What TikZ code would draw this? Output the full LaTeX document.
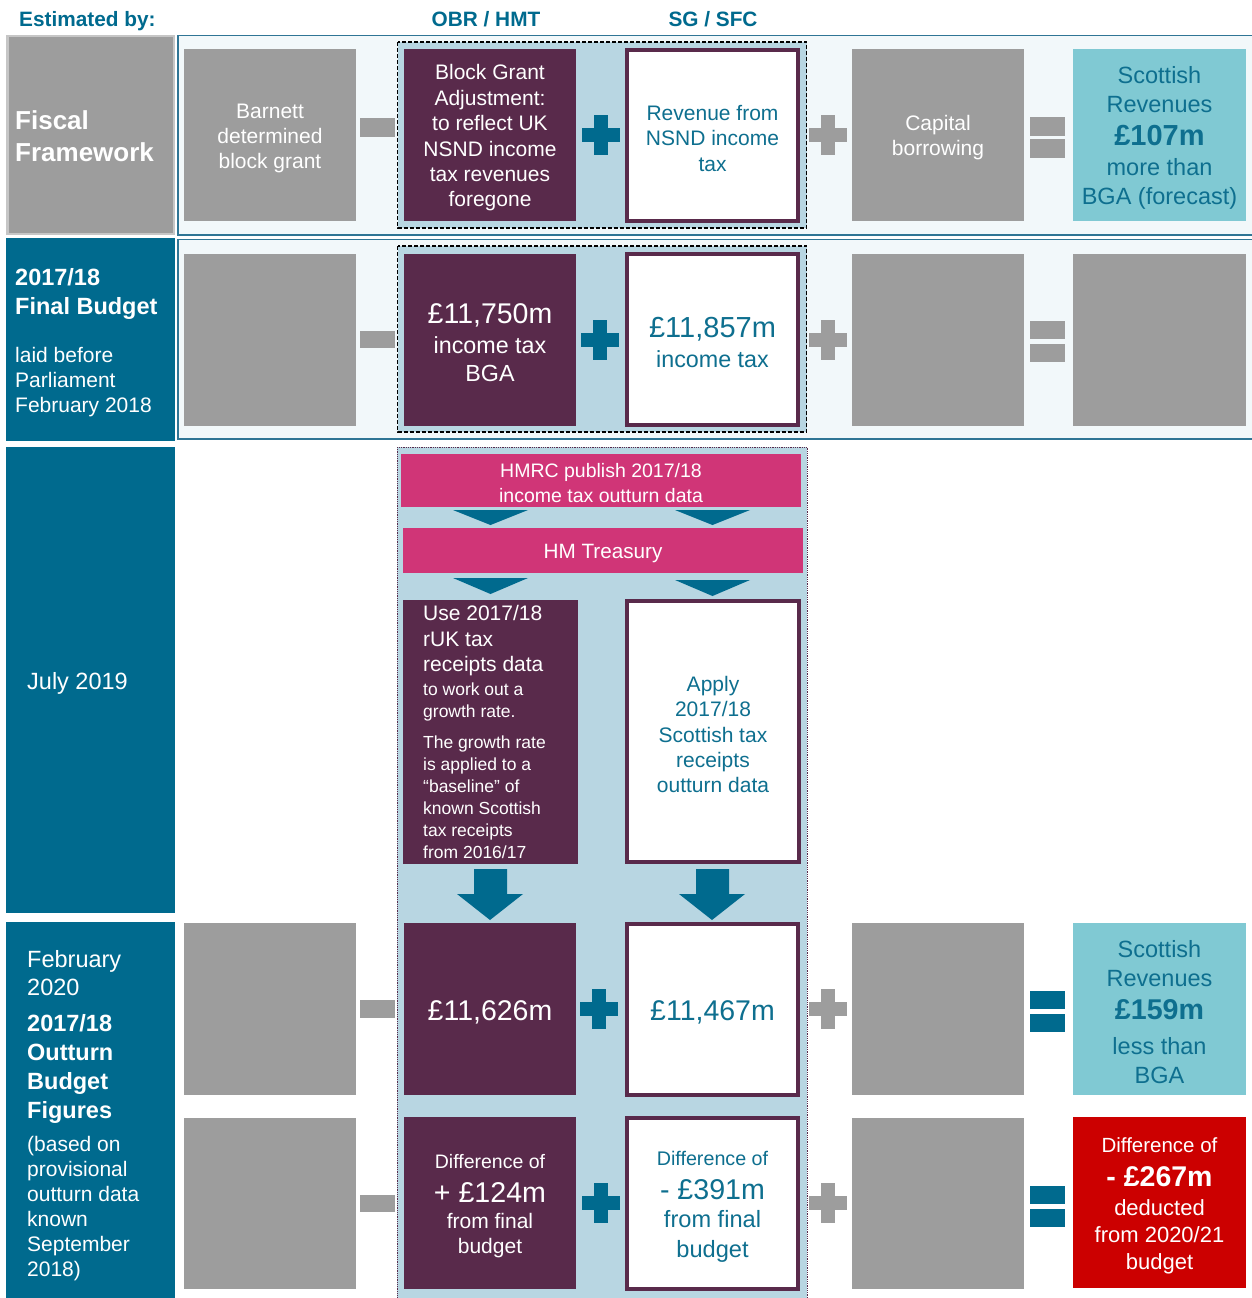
\documentclass[tikz,border=0pt]{standalone}
\usepackage{fontspec}
\setmainfont{Liberation Sans}
\usetikzlibrary{fit}
\definecolor{cteal}{HTML}{006A8E}
\definecolor{cgray}{HTML}{9D9D9D}
\definecolor{cgrayb}{HTML}{C6C6C6}
\definecolor{cpurple}{HTML}{592A4B}
\definecolor{clblue}{HTML}{B8D6E2}
\definecolor{cband}{HTML}{F2F8FA}
\definecolor{cbandb}{HTML}{2F7595}
\definecolor{cpink}{HTML}{D03577}
\definecolor{clteal}{HTML}{80C9D3}
\definecolor{cred}{HTML}{CC0000}
\definecolor{ctxt}{HTML}{0E6F8F}
\newcommand\fs[2]{\fontsize{#1}{#2}\selectfont}
% name, x1, y1, x2, y2, box style, text style, text
\newcommand\rbox[8]{\node[rect,fit={(#2,#3) (#4,#5)},#6] (#1) {};
  \node[rect,#7] (#1t) at ([yshift=-3pt]#1.center) {#8};}
\newcommand\plusat[3]{\fill[#3] (#1-19,#2-7) rectangle (#1+19,#2+7); \fill[#3] (#1-7,#2-20) rectangle (#1+7,#2+20);}
\begin{document}
\begin{tikzpicture}[x=1pt,y=-1pt,
  rect/.style={inner sep=0pt, outer sep=0pt, align=center},
  wbox/.style={fill=white, draw=cpurple, line width=4pt},
  pbox/.style={fill=cpurple},
  gbox/.style={fill=cgray},
  lt/.style={anchor=west, align=left, inner sep=0pt, text=white},
  hdr/.style={inner sep=0pt, text=cteal, font=\bfseries\fs{20.8}{24}},
  dashbox/.style={draw=black, fill=clblue, line width=1.3pt, dash pattern=on 4pt off 2pt}]
\useasboundingbox (0,0) rectangle (1252,1298);

% headers
\node[hdr, anchor=west] (hest) at (19,21) {Estimated by:};
\node[hdr] (hobr) at (486,19.5) {OBR / HMT};
\node[hdr] (hsg) at (713,19.5) {SG / SFC};

% row bands
\draw[fill=cband, draw=cbandb, line width=1.3pt] (178,35.5) rectangle (1256,235);
\draw[fill=cband, draw=cbandb, line width=1.3pt] (178,239.5) rectangle (1256,439);

% blue column
\draw[fill=clblue, draw=cpurple, densely dotted, line width=0.8pt] (397,447) rectangle (807,1302);
% dashed groups
\draw[dashbox] (397.5,42) rectangle (806.5,228);
\draw[dashbox] (397.5,246) rectangle (806.5,432);

% left column
\draw[fill=cgray, draw=cgrayb, line width=2.5pt] (7.25,36.25) rectangle (173.75,233.75);
\fill[cteal] (6,238) rectangle (175,441);
\fill[cteal] (6,447) rectangle (175,913);
\fill[cteal] (6,922) rectangle (175,1300);
\node[lt, font=\bfseries\fs{26}{32}] (tfiscal) at (15,136) {Fiscal\\Framework};
\node[lt, font=\bfseries\fs{23.5}{29}] (tfb1) at (15,294) {2017/18\\Final Budget};
\node[lt, font=\fs{21}{25}] (tfb2) at (15,382) {laid before\\Parliament\\February 2018};
\node[lt, font=\fs{23.5}{28}] (tjul) at (27,683) {July 2019};
\node[lt, font=\fs{23.5}{28}] (tfeb1) at (27,973) {February\\2020};
\node[lt, font=\bfseries\fs{23.5}{28.7}] (tfeb2) at (27,1069) {2017/18\\Outturn\\Budget\\Figures};
\node[lt, font=\fs{21}{25}] (tfeb3) at (27,1209) {(based on\\provisional\\outturn data\\known\\September\\2018)};

% row 1
\rbox{barnett}{184}{49}{356}{221}{gbox}{text=white, font=\fs{21}{25}}{Barnett\\determined\\block grant}
\fill[cgray] (360,118) rectangle (395,137);
\rbox{bga}{404}{49}{576}{221}{pbox}{text=white, font=\fs{21}{25.4}}{Block Grant\\Adjustment:\\to reflect UK\\NSND income\\tax revenues\\foregone}
\plusat{601}{135}{cteal}
\rbox{rev}{627}{50}{798}{221}{wbox}{text=ctxt, font=\fs{21}{25.5}}{Revenue from\\NSND income\\tax}
\plusat{828}{135}{cgray}
\rbox{capital}{852}{49}{1024}{221}{gbox}{text=white, font=\fs{21}{25}}{Capital\\borrowing}
\fill[cgray] (1030,117) rectangle (1065,136);
\fill[cgray] (1030,139) rectangle (1065,158);
\rbox{scot1}{1073}{49}{1246}{221}{fill=clteal}{text=ctxt, font=\fs{23.5}{29}}{Scottish\\Revenues\\[4pt]{\bfseries\fs{29}{29}£107m}\\[1pt]more than\\BGA (forecast)}

% row 2
\rbox{gray2a}{184}{254}{356}{426}{gbox}{}{}
\fill[cgray] (360,331) rectangle (395,348);
\rbox{bga2}{404}{254}{576}{426}{pbox}{text=white, font=\fs{23.3}{28}}{{\fs{28.5}{30}£11,750m}\\[2pt]income tax\\BGA}
\plusat{600}{340}{cteal}
\rbox{rev2}{627}{254}{798}{425}{wbox}{text=ctxt, font=\fs{23.3}{28}}{{\fs{29}{30}£11,857m}\\[2pt]income tax}
\plusat{828}{340}{cgray}
\rbox{gray2b}{852}{254}{1024}{426}{gbox}{}{}
\fill[cgray] (1030,321) rectangle (1065,339);
\fill[cgray] (1030,344) rectangle (1065,362);
\rbox{gray2c}{1073}{254}{1246}{426}{gbox}{}{}

% July 2019 flow
\rbox{hmrc}{401}{454}{801}{507}{fill=cpink}{text=white, font=\fs{19.5}{25}}{HMRC publish 2017/18\\income tax outturn data}
\fill[cteal] (453,510) -- (528,510) -- (490.5,525) -- cycle;
\fill[cteal] (675,510) -- (750,510) -- (712.5,525) -- cycle;
\rbox{hmt}{403}{528}{803}{573}{fill=cpink}{text=white, font=\fs{20.7}{25}}{HM Treasury}
\fill[cteal] (453,578) -- (528,578) -- (490.5,594) -- cycle;
\fill[cteal] (675,580) -- (750,580) -- (712.5,596) -- cycle;
\rbox{use}{403}{600}{578}{864}{pbox}{}{}
\node[lt, font=\fs{21}{25.5}] (tuse1) at (423,641) {Use 2017/18\\rUK tax\\receipts data};
\node[lt, font=\fs{17.5}{22}] (tuse2) at (423,702) {to work out a\\growth rate.};
\node[lt, font=\fs{17.5}{22}] (tuse3) at (423,797) {The growth rate\\is applied to a\\“baseline” of\\known Scottish\\tax receipts\\from 2016/17};
\rbox{apply}{627}{601}{799}{862}{wbox}{text=ctxt, font=\fs{21}{25.2}}{Apply\\2017/18\\Scottish tax\\receipts\\outturn data}
\fill[cteal] (474,869) -- (507,869) -- (507,894) -- (523,894) -- (490,920) -- (457,894) -- (474,894) -- cycle;
\fill[cteal] (696,869) -- (729,869) -- (729,894) -- (745,894) -- (712,920) -- (679,894) -- (696,894) -- cycle;

% row 3
\rbox{gray3a}{184}{923}{356}{1095}{gbox}{}{}
\fill[cgray] (360,1000) rectangle (395,1018);
\rbox{bga3}{404}{923}{576}{1095}{pbox}{text=white, font=\fs{28.5}{30}}{£11,626m}
\plusat{599}{1009}{cteal}
\rbox{rev3}{627}{924}{798}{1095}{wbox}{text=ctxt, font=\fs{28.5}{30}}{£11,467m}
\plusat{828}{1009}{cgray}
\rbox{gray3b}{852}{923}{1024}{1095}{gbox}{}{}
\fill[cteal] (1030,991) rectangle (1065,1009);
\fill[cteal] (1030,1014) rectangle (1065,1032);
\rbox{scot2}{1073}{923}{1246}{1095}{fill=clteal}{text=ctxt, font=\fs{23.5}{29}}{Scottish\\Revenues\\[4pt]{\bfseries\fs{28.6}{29}£159m}\\[6pt]less than\\BGA}

% row 4
\rbox{gray4a}{184}{1118}{356}{1289}{gbox}{}{}
\fill[cgray] (360,1195) rectangle (395,1212);
\rbox{bga4}{404}{1117}{576}{1289}{pbox}{text=white, font=\fs{21}{25}}{{\fs{19.5}{20}Difference of}\\[9pt]{\fs{28.6}{29}+ £124m}\\[1pt]from final\\budget}
\plusat{601}{1203}{cteal}
\rbox{rev4}{627}{1118}{798}{1289}{wbox}{text=ctxt, font=\fs{23.6}{30}}{{\fs{19.7}{20}Difference of}\\[4pt]{\fs{28.6}{29}- £391m}\\[-2pt]from final\\budget}
\plusat{828}{1203}{cgray}
\rbox{gray4b}{852}{1118}{1024}{1289}{gbox}{}{}
\fill[cteal] (1030,1186) rectangle (1065,1204);
\fill[cteal] (1030,1209) rectangle (1065,1227);
\rbox{red}{1073}{1117}{1246}{1288}{fill=cred}{text=white, font=\fs{22}{27}}{{\fs{20.5}{21}Difference of}\\[7pt]{\bfseries\fs{28.5}{29}- £267m}\\[1.7pt]deducted\\from 2020/21\\budget}
\end{tikzpicture}
\end{document}
